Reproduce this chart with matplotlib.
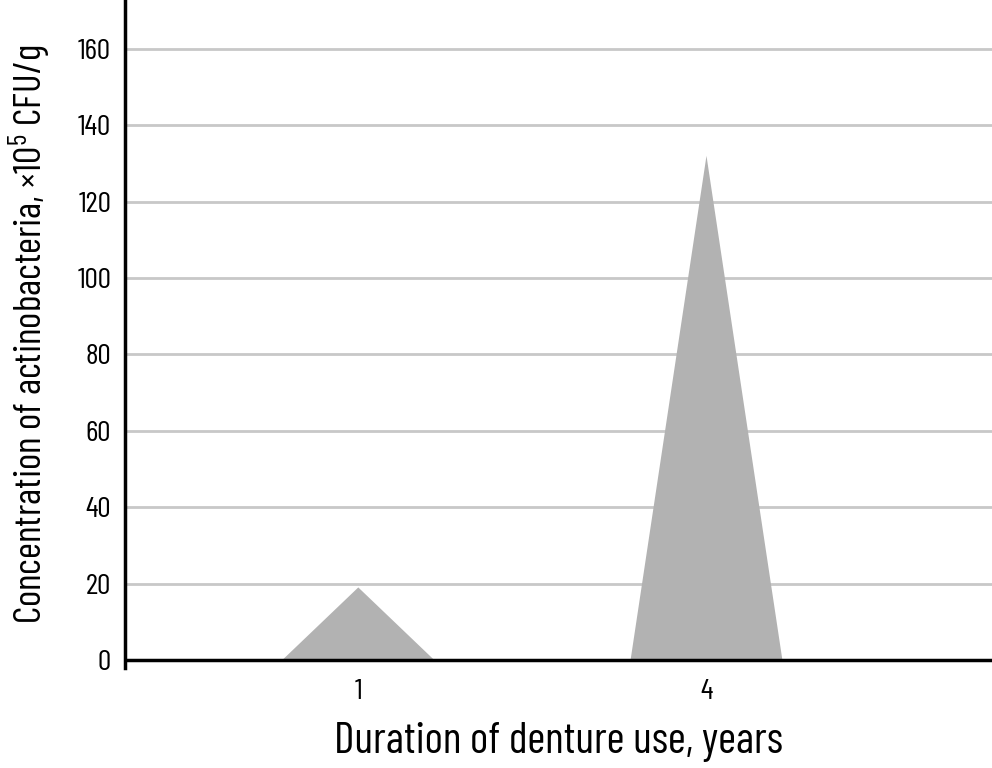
import matplotlib
matplotlib.use("Agg")
import matplotlib.pyplot as plt
import numpy as np

plt.rcParams['font.family'] = ['Barlow Condensed', 'DejaVu Sans']
plt.rcParams['mathtext.fontset'] = 'custom'
plt.rcParams['mathtext.rm'] = 'Barlow Condensed'
plt.rcParams['mathtext.it'] = 'Barlow Condensed'

# data
years = ['1', '4']
concentration = [19, 132]
yticks = [0, 20, 40, 60, 80, 100, 120, 140, 160]

fig = plt.figure(figsize=(9.92, 7.68), dpi=100)
ax = fig.add_axes([0.126, 0.1302, 0.874, 0.8698])

half = 0.218
for i, v in enumerate(concentration):
    ax.fill([i - half, i, i + half], [0, v, 0], color='#b2b2b2', zorder=3, lw=0)

ax.set_xlim(-0.67, 1.82)
ax.set_ylim(-2.1, 172.8)
ax.set_yticks(yticks)
ax.set_xticks(range(len(years)))
ax.set_xticklabels(years)
ax.grid(axis='y', color='#c8c8c8', lw=2, zorder=1)
ax.axhline(0, color='black', lw=2.5, zorder=4)

for s in ['top', 'right', 'bottom']:
    ax.spines[s].set_visible(False)
ax.spines['left'].set_linewidth(2.5)
ax.tick_params(length=0, labelsize=21.5, pad=10)
ax.tick_params(axis='x', pad=8)

ax.set_xlabel('Duration of denture use, years', fontsize=31.5, labelpad=12)
ax.set_ylabel('Concentration of actinobacteria, ×10$^{\\mathrm{5}}$ CFU/g', fontsize=28, labelpad=18)

fig.savefig('out.png', dpi=100)
